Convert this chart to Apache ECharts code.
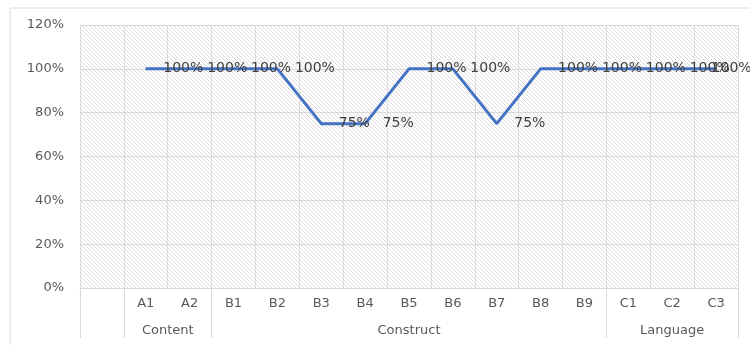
<!DOCTYPE html>
<html>
<head>
<meta charset="utf-8">
<script src="https://cdn.jsdelivr.net/npm/echarts@6/dist/echarts.min.js"></script>
<style>
  html, body { margin: 0; padding: 0; background: #fff; }
  #chart { width: 750px; height: 345px; }
</style>
</head>
<body>
<div id="chart"></div>
<script>
// categories and their group on the second axis row
var categories = ['', 'A1', 'A2', 'B1', 'B2', 'B3', 'B4', 'B5', 'B6', 'B7', 'B8', 'B9', 'C1', 'C2', 'C3'];
var groups = ['', 'Content', 'Content', 'Construct', 'Construct', 'Construct', 'Construct', 'Construct',
              'Construct', 'Construct', 'Construct', 'Construct', 'Language', 'Language', 'Language'];
var values = [null, 100, 100, 100, 100, 75, 75, 100, 100, 75, 100, 100, 100, 100, 100];
var yTicks = [0, 20, 40, 60, 80, 100, 120];

(function() {
    "use strict";
    var chart = echarts.init(document.getElementById('chart'));

    // hatch pattern for the plot area
    var tile = document.createElement('canvas');
    tile.width = 4;
    tile.height = 4;
    var ctx = tile.getContext('2d');
    ctx.fillStyle = '#ffffff';
    ctx.fillRect(0, 0, 4, 4);
    ctx.fillStyle = '#dcdcdc';
    for (var i = 0; i < 4; i++) {
        ctx.fillRect(i, i, 1, 1);
    }

    // group spans -> boundaries and label centers
    var bounds = [0];
    var centers = [];
    var names = {};
    var start = 0;
    for (var k = 1; k <= groups.length; k++) {
        if (k === groups.length || groups[k] !== groups[start]) {
            bounds.push(k);
            if (groups[start]) {
                var c = (start + k) / 2;
                centers.push(c);
                names[c] = groups[start];
            }
            start = k;
        }
    }

    var seriesData = values.map(function(v, idx) {
        var item = { value: v };
        if (idx === values.length - 1) {
            item.label = { offset: [-22, 0] };
        }
        return item;
    });

    var option = {
        animation: false,
        grid: {
            left: 80,
            right: 12,
            top: 25,
            bottom: 57,
            show: true,
            borderWidth: 0,
            backgroundColor: { image: tile, repeat: 'repeat' }
        },
        graphic: [{
            type: 'rect',
            shape: { x: 10, y: 8, width: 760, height: 360 },
            style: { fill: 'none', stroke: '#d9d9d9', lineWidth: 1 },
            z: -1
        }],
        xAxis: [{
            type: 'category',
            data: categories,
            boundaryGap: true,
            axisLine: { lineStyle: { color: '#d9d9d9' } },
            axisTick: { show: false, interval: 0 },
            axisLabel: {
                interval: 0,
                color: '#595959',
                fontFamily: 'DejaVu Sans',
                fontSize: 13,
                margin: 9
            },
            splitLine: { show: true, interval: 0, lineStyle: { color: '#dcdcdc', width: 1 } }
        }, {
            type: 'value',
            min: 0,
            max: categories.length,
            position: 'bottom',
            axisLine: { show: false },
            axisTick: {
                show: true,
                customValues: bounds,
                length: 50,
                lineStyle: { color: '#d9d9d9' }
            },
            axisLabel: {
                customValues: centers,
                color: '#595959',
                fontFamily: 'DejaVu Sans',
                fontSize: 13,
                margin: 36,
                formatter: function(v) { return names[v] || ''; }
            },
            splitLine: { show: false }
        }],
        yAxis: {
            type: 'value',
            min: yTicks[0],
            max: yTicks[yTicks.length - 1],
            interval: 20,
            axisLine: { show: false },
            axisTick: { show: false },
            axisLabel: {
                color: '#595959',
                fontFamily: 'DejaVu Sans',
                fontSize: 13,
                margin: 16,
                formatter: '{value}%'
            },
            splitLine: { lineStyle: { color: '#d9d9d9' } }
        },
        series: [{
            type: 'line',
            xAxisIndex: 0,
            data: seriesData,
            symbol: 'circle',
            symbolSize: 1,
            itemStyle: { color: '#4472C4' },
            lineStyle: { color: '#4472C4', width: 3 },
            label: {
                show: true,
                position: 'right',
                distance: 17,
                color: '#404040',
                fontFamily: 'DejaVu Sans',
                fontSize: 14,
                formatter: '{c}%'
            }
        }]
    };
    chart.setOption(option);
})();
</script>
</body>
</html>
